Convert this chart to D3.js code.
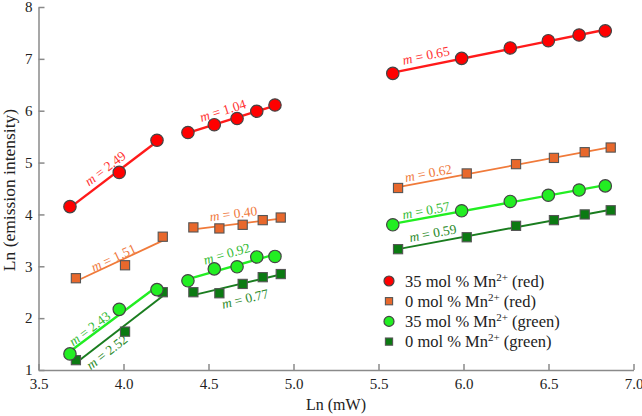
<!DOCTYPE html>
<html><head><meta charset="utf-8">
<script src="https://cdn.jsdelivr.net/npm/d3@7"></script>
<style>
body{margin:0;background:#fff;}
</style></head>
<body><svg id="c" width="642" height="416"></svg>
<script>
// ---- data ----
const segments = [[0,3],[3,8],[8,14]];
const red35X = [3.685,3.975,4.197, 4.379,4.534,4.668,4.784,4.891, 5.584,5.989,6.275,6.499,6.680,6.834];
const red35Y = [4.15,4.81,5.43, 5.58,5.73,5.85,5.99,6.11, 6.72,7.01,7.21,7.35,7.46,7.54];
const red0X  = [3.720,4.009,4.231, 4.411,4.564,4.701,4.819,4.925, 5.615,6.019,6.309,6.532,6.713,6.866];
const red0Y  = [2.77,3.02,3.57, 3.75,3.73,3.80,3.89,3.94, 4.51,4.79,4.97,5.09,5.20,5.29];
const green35X = red35X;
const green35Y = [1.31,2.17,2.55, 2.72,2.95,2.99,3.18,3.19, 3.80,4.07,4.25,4.37,4.47,4.55];
const green0X  = red0X;
const green0Y  = [1.19,1.74,2.50, 2.50,2.48,2.66,2.79,2.85, 3.33,3.56,3.78,3.89,4.00,4.08];
const red35Slopes = ["2.49","1.04","0.65"];
const red0Slopes  = ["1.51","0.40","0.62"];
const green35Slopes = ["2.43","0.92","0.57"];
const green0Slopes  = ["2.52","0.77","0.59"];
const legendLabels = ["35 mol % Mn","0 mol % Mn","35 mol % Mn","0 mol % Mn"];
const legendSuffix = [" (red)"," (red)"," (green)"," (green)"];
const xTicks = [3.5,4.0,4.5,5.0,5.5,6.0,6.5,7.0];
const yTicks = [1,2,3,4,5,6,7,8];

// ---- layout / styles ----
const FONT = "Liberation Serif";
const labelPos = {
  red35:[[3.891,4.895],[4.584,6.013],[5.779,7.074]],
  red0:[[3.940,3.173],[4.646,4.022],[5.793,4.805]],
  green35:[[3.799,1.804],[4.607,3.250],[5.779,4.085]],
  green0:[[3.901,1.353],[4.715,2.383],[5.819,3.648]]
};
const series = [
  {key:"green0", X:green0X, Y:green0Y, m:green0Slopes, shape:"square", fill:"#0b7a12", line:"#1a7d1f", lw:2, text:"#2a8a2a"},
  {key:"red0", X:red0X, Y:red0Y, m:red0Slopes, shape:"square", fill:"#e8682c", line:"#f07a3a", lw:1.8, text:"#ef7a40"},
  {key:"green35", X:green35X, Y:green35Y, m:green35Slopes, shape:"circle", fill:"#22ee22", line:"#22ee22", lw:2.4, text:"#33bb33"},
  {key:"red35", X:red35X, Y:red35Y, m:red35Slopes, shape:"circle", fill:"#ff0000", line:"#ff1a1a", lw:2.4, text:"#ff3333"}
];
const legendOrder = ["red35","red0","green35","green0"];

const svg = d3.select("#c").attr("font-family",FONT);
const x = d3.scaleLinear().domain([3.5,7.0]).range([38.5,633.5]);
const y = d3.scaleLinear().domain([1,8]).range([370,7]);

// axes
const axisColor = "#8a8a8a";
const gx = svg.append("g").attr("transform","translate(0,370)")
  .call(d3.axisBottom(x).tickValues(xTicks).tickFormat(d3.format(".1f")).tickSizeInner(-6).tickSizeOuter(0).tickPadding(8));
const gy = svg.append("g").attr("transform","translate(38.5,0)")
  .call(d3.axisLeft(y).tickValues(yTicks).tickFormat(d3.format("d")).tickSizeInner(-6).tickSizeOuter(0).tickPadding(6));
[gx,gy].forEach(g=>{
  g.attr("font-family",FONT).attr("font-size",15);
  g.select(".domain").attr("stroke",axisColor).attr("stroke-width",1.5);
  g.selectAll(".tick line").attr("stroke",axisColor).attr("stroke-width",1.5);
  g.selectAll(".tick text").attr("fill","#222");
});
svg.append("text").attr("x",336).attr("y",410).attr("text-anchor","middle")
  .attr("font-family",FONT).attr("font-size",16).attr("fill","#222").text("Ln (mW)");
svg.append("text").attr("transform","translate(15,190) rotate(-90)").attr("text-anchor","middle")
  .attr("font-family",FONT).attr("font-size",17.5).attr("fill","#222").text("Ln (emission intensity)");

function fit(xs,ys){
  const mx=d3.mean(xs), my=d3.mean(ys);
  let sxy=0,sxx=0;
  xs.forEach((v,i)=>{sxy+=(v-mx)*(ys[i]-my); sxx+=(v-mx)*(v-mx);});
  const b=sxy/sxx; return {b, a:my-b*mx};
}

// lines
series.forEach(s=>{
  segments.forEach(([i0,i1],k)=>{
    const xs=s.X.slice(i0,i1), ys=s.Y.slice(i0,i1);
    const f=fit(xs,ys);
    const x0=d3.min(xs), x1=d3.max(xs);
    svg.append("line").attr("x1",x(x0)).attr("y1",y(f.a+f.b*x0))
      .attr("x2",x(x1)).attr("y2",y(f.a+f.b*x1))
      .attr("stroke",s.line).attr("stroke-width",s.lw);
    const p=labelPos[s.key][k];
    const ang=Math.atan2(y(f.a+f.b*x1)-y(f.a+f.b*x0), x(x1)-x(x0))*180/Math.PI;
    const t=svg.append("text").attr("text-anchor","middle").attr("dominant-baseline","central")
      .attr("transform",`translate(${x(p[0])},${y(p[1])}) rotate(${ang})`)
      .attr("font-family",FONT).attr("font-size",13.5).attr("fill",s.text);
    t.append("tspan").attr("font-style","italic").text("m");
    t.append("tspan").text(" = "+s.m[k]);
  });
});

// markers
function marker(g,shape,cx,cy,size,fill){
  if(shape==="circle"){
    g.append("circle").attr("cx",cx).attr("cy",cy).attr("r",size)
      .attr("fill",fill).attr("stroke","#444").attr("stroke-width",1.2);
  } else {
    g.append("rect").attr("x",cx-size).attr("y",cy-size).attr("width",2*size).attr("height",2*size)
      .attr("fill",fill).attr("stroke","#555").attr("stroke-width",1.1);
  }
}
series.forEach(s=>{
  const g=svg.append("g");
  s.X.forEach((v,i)=>marker(g,s.shape,x(v),y(s.Y[i]),s.shape==="circle"?6.2:4.6,s.fill));
});

// legend
const leg=svg.append("g");
legendOrder.forEach((key,i)=>{
  const s=series.find(d=>d.key===key);
  const ly=281+i*20.2;
  marker(leg,s.shape,389,ly,s.shape==="circle"?5:3.6,s.fill);
  const t=leg.append("text").attr("x",405).attr("y",ly+5.5).attr("font-family",FONT).attr("font-size",16.5).attr("fill","#222");
  t.append("tspan").text(legendLabels[i]);
  t.append("tspan").attr("dy",-6).attr("font-size",11).text("2+");
  t.append("tspan").attr("dy",6).text(legendSuffix[i]);
});
</script></body></html>
